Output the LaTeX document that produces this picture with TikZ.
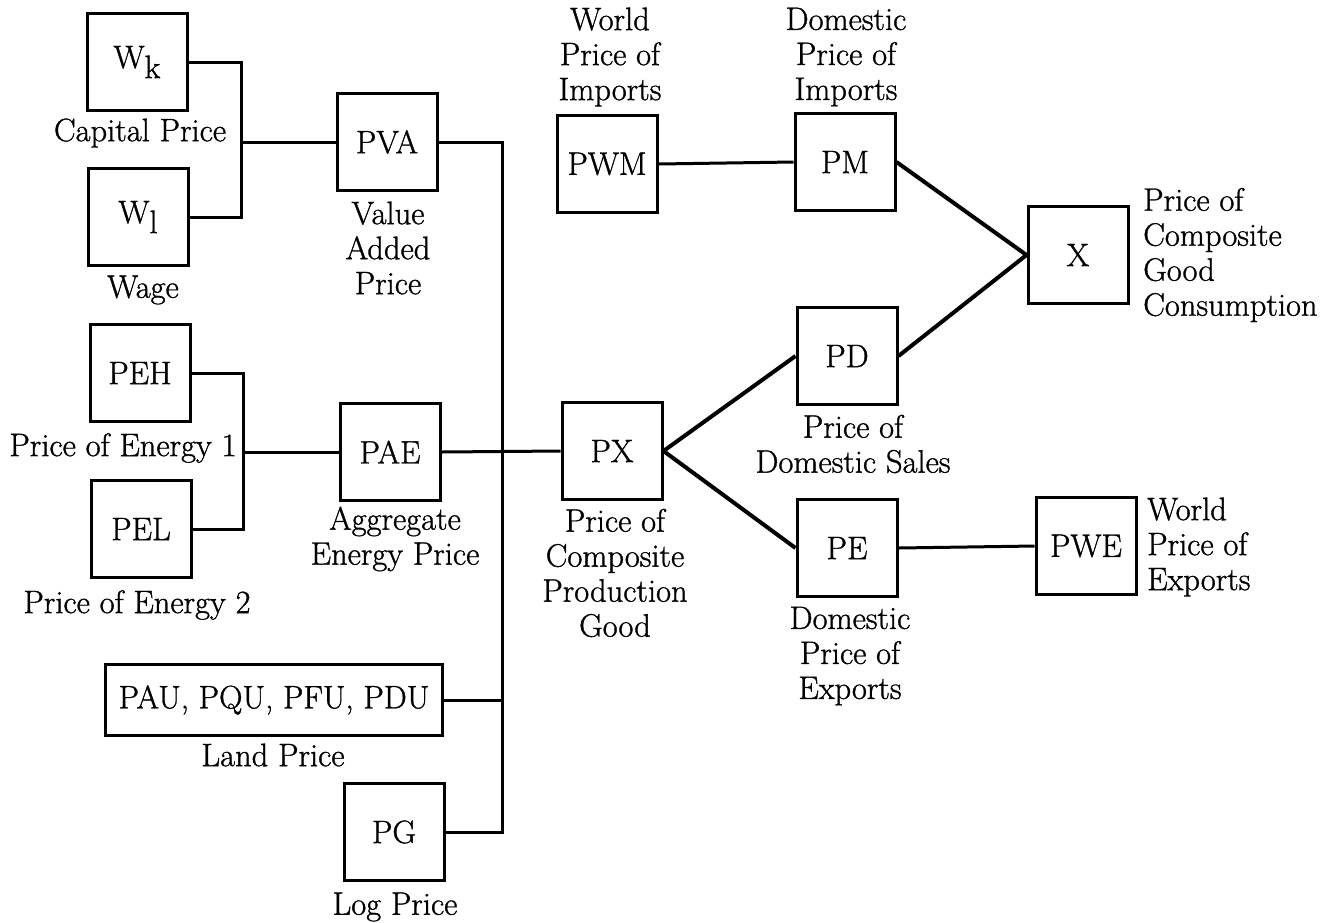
\documentclass[tikz,border=0pt]{standalone}
\usepackage{fontspec}
\newfontfamily\heavyrm{Latin Modern Roman}[FakeBold=1.0]
\begin{document}
\begin{tikzpicture}[x=1pt,y=-1pt,
  every node/.style={font=\heavyrm\fontsize{32.5}{35}\selectfont},
  box/.style={draw, line width=3pt, minimum width=100pt, minimum height=97pt, inner sep=0pt},
  lbl/.style={align=center, inner sep=0pt},
  lbll/.style={align=left, anchor=west, inner sep=0pt},
  conn/.style={line width=3pt},
  diag/.style={line width=4pt}]
\fill[white] (0,0) rectangle (1333,922);
\useasboundingbox (0,0) rectangle (1333,922);
% boxes
\node[box] (wk)  at (137,62)  {W\raisebox{-10pt}{k}};
\node[box] (wl)  at (138,217) {W\raisebox{-10pt}{l}};
\node[box] (pva) at (387,142) {PVA};
\node[box] (peh) at (140,373) {PEH};
\node[box] (pel) at (141,529) {PEL};
\node[box] (pae) at (390,452) {PAE};
\node[box, minimum width=337pt, minimum height=71pt] (pau) at (274,700) {PAU, PQU, PFU, PDU};
\node[box] (pg)  at (394,832) {PG};
\node[box] (px)  at (612,451) {PX};
\node[box] (pwm) at (607,164) {PWM};
\node[box] (pm)  at (845,162) {PM};
\node[box] (pd)  at (847,356) {PD};
\node[box] (pe)  at (847,548) {PE};
\node[box] (xx)  at (1078,255) {X};
\node[box] (pwe) at (1086,546) {PWE};
% labels
\node[lbl] (lcap) at (140,133) {Capital Price};
\node[lbl] (lwage) at (143,290) {Wage};
\node[lbl] (lva) at (388,248) {Value\\Added\\Price};
\node[lbl] (le1) at (123,448) {Price of Energy 1};
\node[lbl] (le2) at (137,605) {Price of Energy 2};
\node[lbl] (lae) at (395,539) {Aggregate\\Energy Price};
\node[lbl] (lland) at (273,755) {Land Price};
\node[lbl] (llog) at (395,907) {Log Price};
\node[lbl] (lpx) at (615,573) {Price of\\Composite\\Production\\Good};
\node[lbl] (lwm) at (610,57) {World\\Price of\\Imports};
\node[lbl] (ldm) at (846,57) {Domestic\\Price of\\Imports};
\node[lbl] (lds) at (853,444) {Price of\\Domestic Sales};
\node[lbl] (lde) at (850,656) {Domestic\\Price of\\Exports};
\node[lbll] (lx) at (1143,255) {Price of\\Composite\\Good\\Consumption};
\node[lbll] (lwe) at (1147,547) {World\\Price of\\Exports};
% connectors
\coordinate (b1) at (241,142);
\coordinate (b2) at (243,452);
\coordinate (bt) at (502,142);
\coordinate (bb) at (502,832);
\draw[conn] (wk.east) -| (b1) |- (wl.east);
\draw[conn] (b1) -- (pva.west);
\draw[conn] (peh.east) -| (b2) |- (pel.east);
\draw[conn] (b2) -- (pae.west);
\draw[conn] (pva.east) -- (bt) -- (bb) -- (pg.east);
\draw[conn] (pau.east) -- (pau.east -| bt);
\draw[conn] (pae.east) -- (px.west);
\draw[conn] (pwm.east) -- (pm.west);
\draw[conn] (pe.east) -- (pwe.west);
\draw[diag] (px.east) -- (pd.west);
\draw[diag] (px.east) -- (pe.west);
\draw[diag] (pm.east) -- (xx.west);
\draw[diag] (pd.east) -- (xx.west);
\end{tikzpicture}
\end{document}
